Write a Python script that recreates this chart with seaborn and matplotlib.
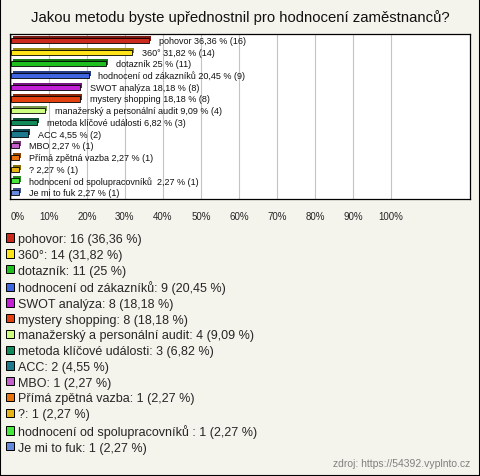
import matplotlib
matplotlib.use('Agg')
import matplotlib.pyplot as plt
import matplotlib.patheffects as pe
from matplotlib.patches import Patch
from matplotlib.lines import Line2D
from matplotlib.colors import to_rgb
import pandas as pd
import seaborn as sns

# data
categories = [
    'pohovor', '360°', 'dotazník', 'hodnocení od zákazníků', 'SWOT analýza',
    'mystery shopping', 'manažerský a personální audit', 'metoda klíčové události',
    'ACC', 'MBO', 'Přímá zpětná vazba', '?', 'hodnocení od spolupracovníků ',
    'Je mi to fuk',
]
counts = [16, 14, 11, 9, 8, 8, 4, 3, 2, 1, 1, 1, 1, 1]
percents = [36.36, 31.82, 25, 20.45, 18.18, 18.18, 9.09, 6.82, 4.55,
            2.27, 2.27, 2.27, 2.27, 2.27]
colors = [
    '#cc2a1c', '#ffe41a', '#1fbf1f', '#3f66e0', '#c21fd6', '#e3410f',
    '#ccff80', '#138a5a', '#1c7a8c', '#c45ec8', '#e8730f', '#e6b414',
    '#45e83a', '#6688dd',
]
tick_values = list(range(0, 101, 10))
tick_labels = [f'{v}%' for v in tick_values]
title = 'Jakou metodu byste upřednostnil pro hodnocení zaměstnanců?'
source = 'zdroj: https://54392.vyplnto.cz'

BG = '#f4f3ec'


def fmt(p):
    return f'{p:g}'.replace('.', ',')


df = pd.DataFrame({'kategorie': categories, 'pct': percents, 'n': counts})

sns.set_theme(style='white')
plt.rcParams['font.family'] = ['Liberation Sans', 'DejaVu Sans']

fig = plt.figure(figsize=(4.8, 4.77), dpi=100, facecolor=BG)
ax = fig.add_axes([10 / 480, 1 - 200 / 477, 460 / 480, 165 / 477])
ax.set_facecolor('white')

sns.barplot(data=df, x='pct', y='kategorie', hue='kategorie', palette=colors,
            legend=False, width=0.45, saturation=1, edgecolor='black',
            linewidth=0.6, ax=ax, zorder=3)

# fake 3D look: darker copy of each bar pushed up/right
for patch, c in zip(ax.patches, colors):
    dark = tuple(v * 0.6 for v in to_rgb(c))
    patch.set_path_effects([
        pe.SimplePatchShadow(offset=(1.4, 1.4), shadow_rgbFace=dark, alpha=1),
        pe.Normal(),
    ])

for i, (cat, p, n) in enumerate(zip(categories, percents, counts)):
    ax.text(p + 2.6, i, f'{cat} {fmt(p)} % ({n})', va='center', ha='left',
            fontsize=6.5, color='#111111', zorder=4)

ax.set_xlim(-0.2, 120.7)
ax.set_ylim(len(categories) - 0.45, -0.55)
ax.set_xticks(tick_values)
ax.set_xticklabels(tick_labels, fontsize=7)
ax.get_xticklabels()[0].set_ha('left')
ax.tick_params(axis='x', length=0, pad=9)
ax.set_yticks([])
ax.set_xlabel('')
ax.set_ylabel('')
ax.xaxis.grid(True, color='#c4c4c4', linewidth=0.8)
ax.set_axisbelow(True)
for s in ax.spines.values():
    s.set_color('black')
    s.set_linewidth(0.9)

fig.text(0.5, 1 - 18 / 477, title, ha='center', va='center', fontsize=10.7,
         color='#111111')

handles = [Patch(facecolor=c, edgecolor='black', linewidth=0.7) for c in colors]
labels = [f'{cat}: {n} ({fmt(p)} %)' for cat, p, n in zip(categories, percents, counts)]
fig.legend(handles, labels, loc='upper left', bbox_to_anchor=(6 / 480, 1 - 234 / 477),
           frameon=False, fontsize=9, handlelength=0.65, handleheight=0.65,
           handletextpad=0.3, labelspacing=0.30, borderpad=0, borderaxespad=0)

fig.text(470 / 480, 1 - 464 / 477, source, ha='right', va='center', fontsize=7.5,
         color='#808080')

# frame round the picture (left, bottom, right)
for xs, ys in [([0.001, 0.001], [0, 1]), ([0, 1], [0.001, 0.001]), ([0.999, 0.999], [0, 1])]:
    fig.add_artist(Line2D(xs, ys, transform=fig.transFigure, color='black', linewidth=1.5))

fig.savefig('out.png', dpi=100, facecolor=BG)
